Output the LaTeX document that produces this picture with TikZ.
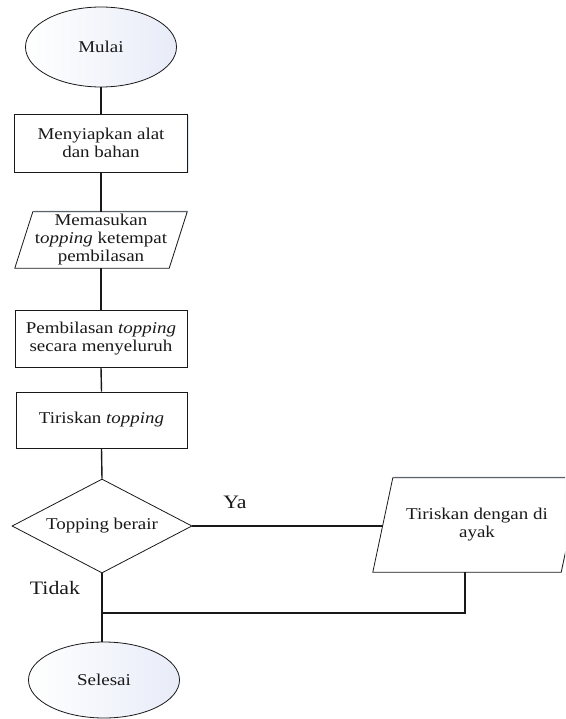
\documentclass[tikz,border=0pt]{standalone}
\usepackage{fontspec}
\setmainfont{Liberation Serif}[FakeStretch=1.15]
\usetikzlibrary{shapes.geometric,calc,shadows}
\definecolor{inkline}{RGB}{25,25,25}
\definecolor{shadeblue}{RGB}{232,236,248}
\definecolor{glowblue}{RGB}{205,216,240}
\pgfdeclarelayer{background}
\pgfsetlayers{background,main}
\begin{document}
\begin{tikzpicture}[x=1pt,y=-1pt,
  basetext/.style={font=\fontsize{16.5}{18}\selectfont, align=center, inner sep=0pt, text=inkline},
  outline/.style={draw=inkline, line width=0.8pt},
  termnode/.style={basetext, outline, ellipse, left color=white, right color=shadeblue},
  procbox/.style={basetext, outline, rectangle, fill=white,
    drop shadow={shadow xshift=1.2pt, shadow yshift=-1.4pt, fill=glowblue, opacity=0.6}},
  iobox/.style={basetext},
  decbox/.style={basetext, outline, diamond, fill=white, aspect=1.9},
  conn/.style={draw=inkline, line width=1.4pt},
  lab/.style={font=\fontsize{19}{21}\selectfont, inner sep=0pt, text=inkline}
]
\useasboundingbox (0,0) rectangle (565,719);

% nodes
\node[termnode, minimum width=151pt, minimum height=80pt] (mulai) at (101,47) {Mulai};
\node[procbox, minimum width=173pt, minimum height=58pt] (siap) at (101,143) {Menyiapkan alat\\dan bahan};
\node[iobox, minimum width=172pt, minimum height=56pt] (masuk) at (101,240) {Memasukan\\t\textit{opping} ketempat\\pembilasan};
\node[procbox, minimum width=172pt, minimum height=57pt] (bilas) at (101,338.5) {Pembilasan \textit{topping}\\secara menyeluruh};
\node[procbox, minimum width=171pt, minimum height=56pt] (tiris) at (101.5,420) {Tiriskan \textit{topping}};
\node[decbox, minimum width=180pt, minimum height=94pt] (cek) at (102,526) {};
\node[basetext] (cektext) at (102,526) {Topping berair};
\node[iobox, minimum width=208pt, minimum height=94pt] (ayak) at (477,525) {Tiriskan dengan di\\ayak};
\node[termnode, minimum width=151pt, minimum height=76pt] (selesai) at (104,680) {Selesai};

% parallelogram outlines
\begin{pgfonlayer}{background}
  \fill[glowblue, opacity=0.6] ($(masuk.north west)+(19.2,-1.4)$) -- ($(masuk.north east)+(1.2,-1.4)$) -- ($(masuk.south east)+(-16.8,-1.4)$) -- ($(masuk.south west)+(1.2,-1.4)$) -- cycle;
  \draw[outline, fill=white] ($(masuk.north west)+(18,0)$) -- (masuk.north east) -- ($(masuk.south east)+(-18,0)$) -- (masuk.south west) -- cycle;
  \begin{scope}
    \clip (0,0) rectangle (565,719);
    \fill[glowblue, opacity=0.6] ($(ayak.north west)+(21.2,-1.4)$) -- ($(ayak.north east)+(1.2,-1.4)$) -- ($(ayak.south east)+(-18.8,-1.4)$) -- ($(ayak.south west)+(1.2,-1.4)$) -- cycle;
    \draw[outline, fill=white] ($(ayak.north west)+(20,0)$) -- (ayak.north east) -- ($(ayak.south east)+(-20,0)$) -- (ayak.south west) -- cycle;
  \end{scope}
\end{pgfonlayer}

% labels
\node[lab] (ya) at (235,502) {Ya};
\node[lab] (tidak) at (55,588) {Tidak};

% connectors
\coordinate (yaend) at (383,526);
\coordinate (join) at (102,613);
\draw[conn] (mulai.south) -- (siap.north);
\draw[conn] (siap.south) -- (masuk.north);
\draw[conn] (masuk.south) -- (bilas.north);
\draw[conn] (bilas.south) -- (tiris.north);
\draw[conn] (tiris.south) -- (cek.north);
\draw[conn] (cek.east) -- (yaend);
\draw[conn] ($(ayak.south)+(-12,0)$) |- (join);
\draw[conn] (cek.south) -- (cek.south |- selesai.north);
\end{tikzpicture}
\end{document}
